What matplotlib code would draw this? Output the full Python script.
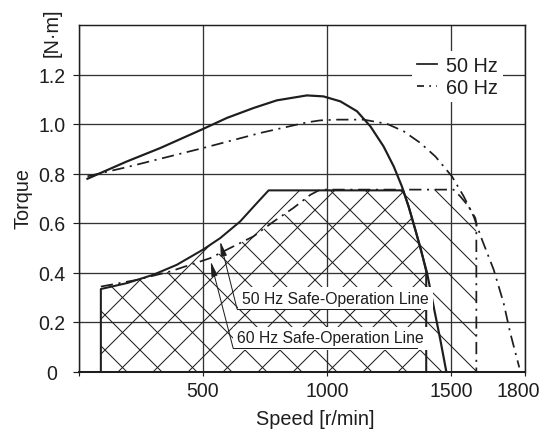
import matplotlib
matplotlib.use("Agg")
import matplotlib.pyplot as plt
from matplotlib.lines import Line2D
from matplotlib.patches import Polygon
from matplotlib.transforms import ScaledTranslation

# ---------------- data ----------------
rpm_50hz = [35, 194, 328, 500, 597, 704, 798, 919, 986, 1054, 1121, 1175,
            1228, 1269, 1302, 1329, 1356, 1403, 1430, 1457, 1481]
torque_50hz = [0.780, 0.850, 0.904, 0.981, 1.026, 1.066, 1.097, 1.117, 1.113,
               1.093, 1.053, 0.992, 0.911, 0.830, 0.749, 0.668, 0.574, 0.401,
               0.263, 0.128, 0.0]

rpm_60hz = [35, 194, 500, 731, 919, 973, 1040, 1148, 1242, 1309, 1376, 1437,
            1504, 1551, 1591, 1625, 1672, 1712, 1739, 1775]
torque_60hz = [0.790, 0.827, 0.904, 0.965, 1.008, 1.016, 1.019, 1.019, 1.002,
               0.972, 0.925, 0.870, 0.789, 0.709, 0.628, 0.533, 0.412, 0.277,
               0.155, 0.017]

# safe-operation boundaries
safe_rpm_50hz = [89, 89, 194, 301, 395, 500, 570, 650, 718, 765, 1307, 1329,
                 1356, 1380, 1400, 1400]
safe_torque_50hz = [0.0, 0.334, 0.358, 0.392, 0.432, 0.493, 0.540, 0.607,
                    0.682, 0.733, 0.733, 0.668, 0.574, 0.490, 0.405, 0.0]

safe_rpm_60hz = [89, 89, 234, 368, 449, 530, 610, 704, 785, 865, 933, 973,
                 1510, 1537, 1571, 1598, 1602, 1602]
safe_torque_60hz = [0.0, 0.344, 0.371, 0.405, 0.432, 0.459, 0.500, 0.547,
                    0.607, 0.662, 0.715, 0.736, 0.736, 0.709, 0.668, 0.621,
                    0.600, 0.0]

x_ticks = [0, 500, 1000, 1500, 1800]
x_tick_labels = ["", "500", "1000", "1500", "1800"]
y_ticks = [0, 0.2, 0.4, 0.6, 0.8, 1.0, 1.2]
y_tick_labels = ["0", "0.2", "0.4", "0.6", "0.8", "1.0", "1.2"]

# ---------------- style ----------------
DPI = 210
INK = "#1e1e1e"
GRID = "#333333"
DASHDOT = (0, (7, 3.2, 1.2, 3.2))
NARROW = ["Liberation Sans Narrow", "Liberation Sans", "DejaVu Sans"]

plt.rcParams["font.family"] = ["Liberation Sans", "DejaVu Sans"]
plt.rcParams["hatch.linewidth"] = 0.35
plt.rcParams["hatch.color"] = INK
plt.rcParams["text.color"] = INK

fig = plt.figure(figsize=(545.5 / DPI, 432.5 / DPI), dpi=DPI)
ax = fig.add_axes([78.7 / 545, 1 - 371.7 / 432,
                   (525 - 78.7) / 545, (371.7 - 25.9) / 432])

# hatched regions
ax.add_patch(Polygon(list(zip(safe_rpm_50hz, safe_torque_50hz)), closed=True,
                     fill=False, hatch="//", edgecolor=INK, lw=0, zorder=1.5))
ax.add_patch(Polygon(list(zip(safe_rpm_60hz, safe_torque_60hz)), closed=True,
                     fill=False, hatch="\\\\", edgecolor=INK, lw=0, zorder=1.5))

# safe-operation lines
ax.plot(safe_rpm_50hz, safe_torque_50hz, color=INK, lw=0.7, zorder=2)
ax.plot(safe_rpm_60hz[1:], safe_torque_60hz[1:], color=INK, lw=0.6,
        linestyle=DASHDOT, zorder=2)

# torque curves
ax.plot(rpm_50hz, torque_50hz, color=INK, lw=0.75, zorder=2.2,
        solid_joinstyle="round")
ax.plot(rpm_60hz, torque_60hz, color=INK, lw=0.6, linestyle=DASHDOT,
        zorder=2.2)

# annotations
for label, text_xy, line_x, line_y, tip in [
    ("50 Hz Safe-Operation Line", (657, 0.277), (638, 1376), 0.253, (570, 0.526)),
    ("60 Hz Safe-Operation Line", (637, 0.117), (622, 1364), 0.095, (532, 0.445)),
]:
    ax.text(text_xy[0], text_xy[1], label, family=NARROW, fontsize=5.4,
            va="baseline", ha="left", zorder=3,
            bbox=dict(facecolor="white", edgecolor="none", pad=1.4))
    ax.plot(line_x, [line_y, line_y], color=INK, lw=0.35, zorder=3.1)
    ax.annotate("", xy=tip, xytext=(line_x[0], line_y), zorder=3.1,
                arrowprops=dict(arrowstyle="-|>,head_length=0.7,head_width=0.15",
                                mutation_scale=6, lw=0.35, color=INK,
                                shrinkA=0, shrinkB=0))

# axes
ax.set_xlim(0, 1800)
ax.set_ylim(0, 1.4)
ax.set_xticks(x_ticks)
ax.set_xticklabels(x_tick_labels)
ax.set_yticks(y_ticks)
ax.set_yticklabels(y_tick_labels)
for lbl in ax.get_yticklabels():
    lbl.set_horizontalalignment("center")
ax.tick_params(axis="x", length=1.5, width=0.4, pad=2.0, labelsize=6.7,
               colors=INK, direction="out")
ax.tick_params(axis="y", length=1.9, width=0.4, pad=7.3, labelsize=6.7,
               colors=INK, direction="out")
# keep "1800" inside the canvas, as in the reference
last = ax.get_xticklabels()[-1]
last.set_transform(last.get_transform()
                   + ScaledTranslation(-7 / DPI, 0, fig.dpi_scale_trans))
ax.grid(True, color=GRID, lw=0.45)
ax.set_axisbelow(True)
for side, sp in ax.spines.items():
    sp.set_color(INK)
    sp.set_linewidth(0.5)
ax.spines["bottom"].set_linewidth(0.7)

fig.text(314.7 / 545, 1 - 425 / 432, "Speed [r/min]", ha="center",
         va="baseline", fontsize=6.8)
fig.text(22.5 / 545, 1 - 198.5 / 432, "Torque", rotation=90, ha="center",
         va="center", fontsize=6.8)
fig.text(52.5 / 545, 1 - 32.5 / 432, "[N·m]", rotation=90, ha="center",
         va="center", fontsize=6.8)

handles = [
    Line2D([], [], color=INK, lw=0.6),
    Line2D([], [], color=INK, lw=0.6, linestyle=(0, (4, 3, 1, 3, 1, 3))),
]
leg = ax.legend(handles, ["50 Hz", "60 Hz"], loc="center",
                bbox_to_anchor=(457 / 545, 1 - 77 / 432),
                bbox_transform=fig.transFigure, fontsize=6.8,
                frameon=True, fancybox=False, framealpha=1,
                facecolor="white", edgecolor="none", borderpad=0.25,
                handlelength=1.0, handletextpad=0.45, labelspacing=0.15,
                borderaxespad=0)
leg.set_zorder(4)

fig.savefig("out.png", dpi=DPI)
